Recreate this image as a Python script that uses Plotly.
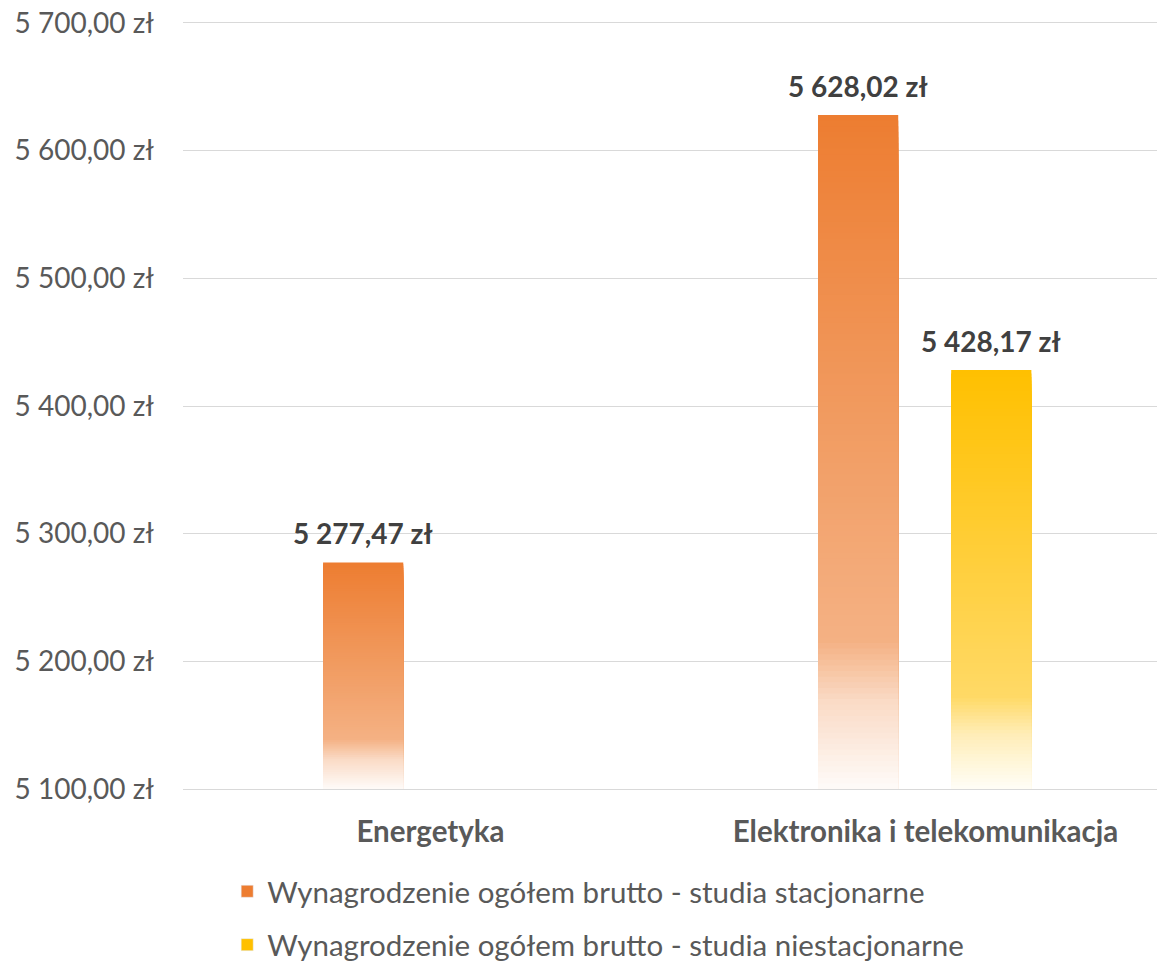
import plotly.graph_objects as go

# ---------------- data ----------------
categories = ["Energetyka", "Elektronika i telekomunikacja"]
series_names = [
    "Wynagrodzenie ogółem brutto - studia stacjonarne",
    "Wynagrodzenie ogółem brutto - studia niestacjonarne",
]
stacjonarne = [5277.47, 5628.02]
niestacjonarne = [None, 5428.17]
series_colors = ["#ED7D31", "#FFC000"]
y_ticks = [5100, 5200, 5300, 5400, 5500, 5600, 5700]
y_tick_labels = ["5 100,00 zł", "5 200,00 zł", "5 300,00 zł", "5 400,00 zł",
                 "5 500,00 zł", "5 600,00 zł", "5 700,00 zł"]

# ---------------- style ----------------
FONT = "Lato"
AXIS_MIN, AXIS_MAX = 5100, 5700
BAR_W = 0.162
OFFSETS = [-0.217, 0.052]
N_SEG = 120
# (fraction from top, white mix)
STOPS = [(0.0, 0.0), (0.78, 0.40), (0.87, 0.72), (1.0, 0.97)]


def fmt(v):
    s = f"{v:,.2f}".replace(",", " ").replace(".", ",")
    return s + " zł"


def hex_rgb(h):
    h = h.lstrip("#")
    return tuple(int(h[i:i + 2], 16) for i in (0, 2, 4))


def white_mix(t):
    for (t0, m0), (t1, m1) in zip(STOPS[:-1], STOPS[1:]):
        if t0 <= t <= t1:
            return m0 + (m1 - m0) * (t - t0) / (t1 - t0)
    return STOPS[-1][1]


def seg_color(base_hex, t):
    r, g, b = hex_rgb(base_hex)
    m = white_mix(t)
    return "rgb({},{},{})".format(
        round(r + (255 - r) * m), round(g + (255 - g) * m), round(b + (255 - b) * m))


fig = go.Figure()
annotations = []
for s, (name, vals, col, off) in enumerate(
        zip(series_names, [stacjonarne, niestacjonarne], series_colors, OFFSETS)):
    xs, heights, colors = [], [], []
    for ci, (cat, v) in enumerate(zip(categories, vals)):
        if v is None:
            continue
        span = v - AXIS_MIN
        # tallest first; each shorter bar paints over the lower part
        for k in range(N_SEG):
            xs.append(cat)
            heights.append(span * (N_SEG - k) / N_SEG)
            colors.append(seg_color(col, (k + 0.5) / N_SEG))
        annotations.append(dict(
            x=ci + off + BAR_W / 2, y=v, xref="x", yref="y",
            text="<b>" + fmt(v) + "</b>", showarrow=False,
            yanchor="bottom", yshift=10,
            font=dict(family=FONT, size=28, color="#404040")))
    fig.add_trace(go.Bar(
        x=xs, y=heights, base=AXIS_MIN, width=BAR_W, offset=off,
        marker=dict(color=colors, line=dict(width=0), opacity=1),
        showlegend=False, hoverinfo="skip"))
    # legend entry
    fig.add_trace(go.Bar(
        x=[categories[0]], y=[None], name=name,
        marker=dict(color=col), legendgroup=f"g{s}",
        showlegend=True, hoverinfo="skip"))

# the page body has an 8px default margin, so the figure is sized to fit
fig.update_layout(
    width=1157, height=956,
    margin=dict(l=175, r=0, t=15, b=175, autoexpand=False),
    paper_bgcolor="white", plot_bgcolor="white",
    barmode="overlay",
    font=dict(family=FONT, color="#595959"),
    xaxis=dict(
        type="category", categoryorder="array", categoryarray=categories,
        range=[-0.5, 1.484], showgrid=False, zeroline=False,
        showline=True, linecolor="#D9D9D9", linewidth=1.3, mirror=True,
        ticks="", ticklabelstandoff=16, automargin=False,
        tickfont=dict(family=FONT, size=29.5, color="#595959", weight="bold"),
    ),
    yaxis=dict(
        range=[AXIS_MIN, AXIS_MAX], tickvals=y_ticks, ticktext=y_tick_labels,
        showgrid=True, gridcolor="#D9D9D9", gridwidth=1.3, zeroline=False,
        showline=False, ticks="", ticklabelstandoff=28, automargin=False,
        ticklabeloverflow="allow",
        tickfont=dict(family=FONT, size=28, color="#595959"),
    ),
    legend=dict(
        orientation="v", x=0.045, xanchor="left", y=-0.1, yanchor="top",
        font=dict(family=FONT, size=29.5, color="#595959"),
        tracegroupgap=12, itemwidth=30,
    ),
    annotations=annotations,
)

fig.write_html("out.html")
